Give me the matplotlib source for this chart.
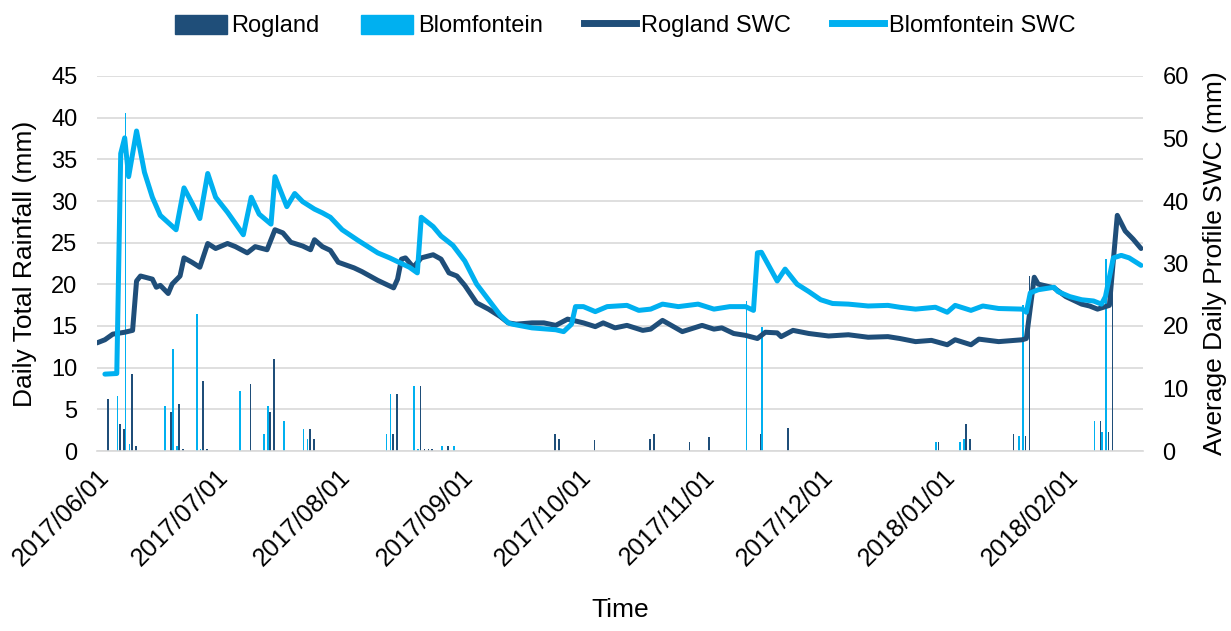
import matplotlib
matplotlib.use("Agg")
import matplotlib.pyplot as plt
import matplotlib.dates as mdates
from matplotlib.patches import Patch
from matplotlib.lines import Line2D
import numpy as np
import pandas as pd

plt.rcParams['font.family'] = ['Liberation Sans', 'DejaVu Sans']

start = pd.Timestamp("2017-06-01")
x_end_day = 264.5

# Daily rainfall (day offset from 2017-06-01, mm)
rog_rain_days = [3, 6, 7, 9, 10, 19, 21, 22, 27, 28, 39, 44, 45, 54, 55, 75, 76, 82, 83, 84, 85, 89,
                 116, 117, 126, 140, 141, 150, 155, 168, 175, 213, 220, 221, 232, 235, 236, 254, 256, 257]
rog_rain_vals = [6.3, 3.2, 2.7, 9.3, 0.6, 4.7, 5.7, 0.2, 8.4, 0.2, 8.1, 4.7, 11.1, 2.7, 1.45, 2.05, 6.9, 7.8, 0.25, 0.2, 0.2, 0.56,
                 2.0, 1.45, 1.35, 1.45, 2.0, 1.1, 1.7, 2.1, 2.75, 1.1, 3.25, 1.45, 2.0, 1.75, 21.0, 3.55, 2.3, 24.0]
blo_rain_days = [5, 7, 8, 17, 19, 20, 25, 26, 36, 42, 43, 47, 52, 53, 73, 74, 80, 81, 87, 90,
                 164, 168, 212, 218, 219, 233, 234, 252, 254, 255]
blo_rain_vals = [6.6, 40.6, 0.8, 5.4, 12.3, 0.56, 16.5, 0.2, 7.2, 2.05, 5.4, 3.6, 2.7, 1.45, 2.05, 6.9, 7.8, 0.2, 0.56, 0.56,
                 18.0, 14.9, 1.1, 1.1, 1.45, 1.75, 17.5, 3.55, 2.3, 23.0]

# Average daily profile SWC (day offset, mm)
rog_swc_days = [0, 2, 4, 7, 9, 10, 11, 14, 15, 16, 18, 19, 21, 22, 24, 26, 28, 30, 33, 35, 38, 40, 43, 45, 47, 49,
                52, 54, 55, 57, 59, 61, 65, 67, 71, 75, 76, 77, 78, 80, 82, 85, 87, 89, 91, 93, 96, 99, 102, 104,
                106, 110, 113, 116, 119, 123, 126, 128, 131, 134, 138, 140, 143, 148, 153, 156, 158, 161, 164, 167,
                169, 172, 173, 176, 180, 185, 190, 195, 200, 203, 207, 211, 215, 217, 221, 223, 228, 234, 235, 237,
                238, 242, 245, 249, 251, 253, 256, 258, 260, 262, 264]
rog_swc_vals = [17.3, 17.8, 18.7, 19.0, 19.3, 27.2, 28.0, 27.5, 26.2, 26.5, 25.2, 26.7, 28.0, 30.9, 30.2, 29.4, 33.2, 32.4,
                33.2, 32.7, 31.7, 32.7, 32.2, 35.4, 34.9, 33.4, 32.8, 32.2, 33.8, 32.7, 32.1, 30.2, 29.3, 28.7, 27.3,
                26.1, 27.5, 30.7, 30.9, 29.4, 30.9, 31.4, 30.7, 28.5, 28.0, 26.5, 23.7, 22.7, 21.5, 20.5,
                20.3, 20.5, 20.5, 20.1, 21.1, 20.5, 19.9, 20.5, 19.7, 20.1, 19.3, 19.5, 20.9, 19.1, 20.1, 19.5, 19.7,
                18.8, 18.5, 18.0, 19.0, 18.9, 18.3, 19.3, 18.8, 18.4, 18.6, 18.2, 18.3, 18.0, 17.5, 17.7, 17.0, 17.8,
                17.0, 17.9, 17.5, 17.8, 18.0, 27.8, 26.7, 26.1, 24.7, 23.5, 23.2, 22.7, 23.3, 37.7, 35.2, 33.9, 32.4]
blo_swc_days = [2, 5, 6, 7, 8, 10, 12, 14, 16, 20, 22, 24, 26, 28, 30, 33, 37, 39, 41, 44, 45, 48, 50, 52, 55, 57,
                59, 62, 66, 71, 74, 77, 79, 81, 82, 85, 87, 90, 93, 96, 99, 102, 104, 105, 110, 116, 118, 120, 121,
                123, 126, 129, 134, 137, 140, 143, 147, 152, 156, 160, 164, 166, 167, 168, 172, 174, 177, 180, 183,
                186, 190, 195, 200, 203, 207, 212, 215, 217, 221, 224, 228, 234, 235, 236, 238, 242, 243, 246, 249,
                252, 254, 255, 257, 259, 261, 264]
blo_swc_vals = [12.3, 12.4, 47.6, 50.1, 43.9, 51.2, 44.6, 40.6, 37.7, 35.4, 42.1, 39.7, 37.2, 44.4, 40.6, 38.2, 34.6,
                40.6, 37.9, 36.3, 43.9, 39.1, 41.2, 39.9, 38.7, 38.1, 37.4, 35.4, 33.7, 31.7, 30.9, 30.0, 29.4, 28.5,
                37.4, 35.9, 34.4, 32.9, 30.4, 26.7, 24.2, 21.7, 20.5, 20.3, 19.7, 19.4, 19.1, 20.3, 23.1, 23.1, 22.3,
                23.1, 23.3, 22.5, 22.7, 23.5, 23.1, 23.5, 22.7, 23.1, 23.1, 22.5, 31.7, 31.8, 27.2, 29.1, 26.7, 25.5,
                24.2, 23.6, 23.5, 23.2, 23.3, 23.0, 22.7, 23.0, 22.2, 23.3, 22.5, 23.2, 22.8, 22.7, 22.2, 25.3, 25.8,
                26.2, 25.5, 24.7, 24.2, 24.0, 23.5, 24.7, 30.9, 31.3, 30.9, 29.7]

month_ticks = ["2017-06-01", "2017-07-01", "2017-08-01", "2017-09-01", "2017-10-01",
               "2017-11-01", "2017-12-01", "2018-01-01", "2018-02-01"]

dark = "#1F4E79"
light = "#00B0F0"

def to_dates(days):
    return [start + pd.Timedelta(days=float(d)) for d in days]

fig = plt.figure(figsize=(12.31, 6.31), dpi=100)
ax = fig.add_axes([97/1231, 1-451/631, (1143-97)/1231, (451-76)/631])
ax2 = ax.twinx()

bw = 0.42
ax.bar(mdates.date2num(to_dates(rog_rain_days)) - bw/2, rog_rain_vals, width=bw, color=dark, zorder=2)
ax.bar(mdates.date2num(to_dates(blo_rain_days)) + bw/2, blo_rain_vals, width=bw, color=light, zorder=2)

ax2.plot(to_dates(rog_swc_days), rog_swc_vals, color=dark, lw=3.6, solid_joinstyle='round', solid_capstyle='round')
ax2.plot(to_dates(blo_swc_days), blo_swc_vals, color=light, lw=3.6, solid_joinstyle='round', solid_capstyle='round')

ax.set_xlim(mdates.date2num(start), mdates.date2num(start + pd.Timedelta(days=x_end_day)))
ax.set_ylim(0, 45)
ax.set_yticks(np.arange(0, 46, 5))
ax2.set_ylim(0, 60)
ax2.set_yticks(np.arange(0, 61, 10))

ax.set_xticks(mdates.date2num(pd.to_datetime(month_ticks)))
ax.xaxis.set_major_formatter(mdates.DateFormatter("%Y/%m/%d"))

ax.grid(axis='y', color='#D9D9D9', lw=1.2, zorder=0)
ax.set_axisbelow(True)
for a in (ax, ax2):
    for s in a.spines.values():
        s.set_visible(False)
    a.tick_params(length=0, labelsize=17, colors='black')
ax.tick_params(axis='x', pad=10, labelsize=18)
ax.tick_params(axis='y', pad=14)
ax2.tick_params(axis='y', pad=14)
for lab in ax.get_xticklabels():
    lab.set_rotation(45)
    lab.set_ha('right')
    lab.set_rotation_mode('anchor')
ax.spines['bottom'].set_visible(True)
ax.spines['bottom'].set_color('#D9D9D9')
ax.spines['bottom'].set_linewidth(1.2)

ax.set_ylabel("Daily Total Rainfall (mm)", fontsize=19, labelpad=10)
ax2.set_ylabel("Average Daily Profile SWC (mm)", fontsize=19, labelpad=10)
ax.set_xlabel("Time", fontsize=19, labelpad=20)

handles = [Patch(color=dark, label="Rogland"),
           Patch(color=light, label="Blomfontein"),
           Line2D([0], [0], color=dark, lw=5, label="Rogland SWC"),
           Line2D([0], [0], color=light, lw=5, label="Blomfontein SWC")]
fig.legend(handles=handles, loc='center', bbox_to_anchor=(625/1231, 1-26/631), ncol=4, frameon=False,
           fontsize=17, handlelength=2.2, handleheight=0.9, handletextpad=0.2, columnspacing=1.75)

fig.savefig("out.png", dpi=100)
